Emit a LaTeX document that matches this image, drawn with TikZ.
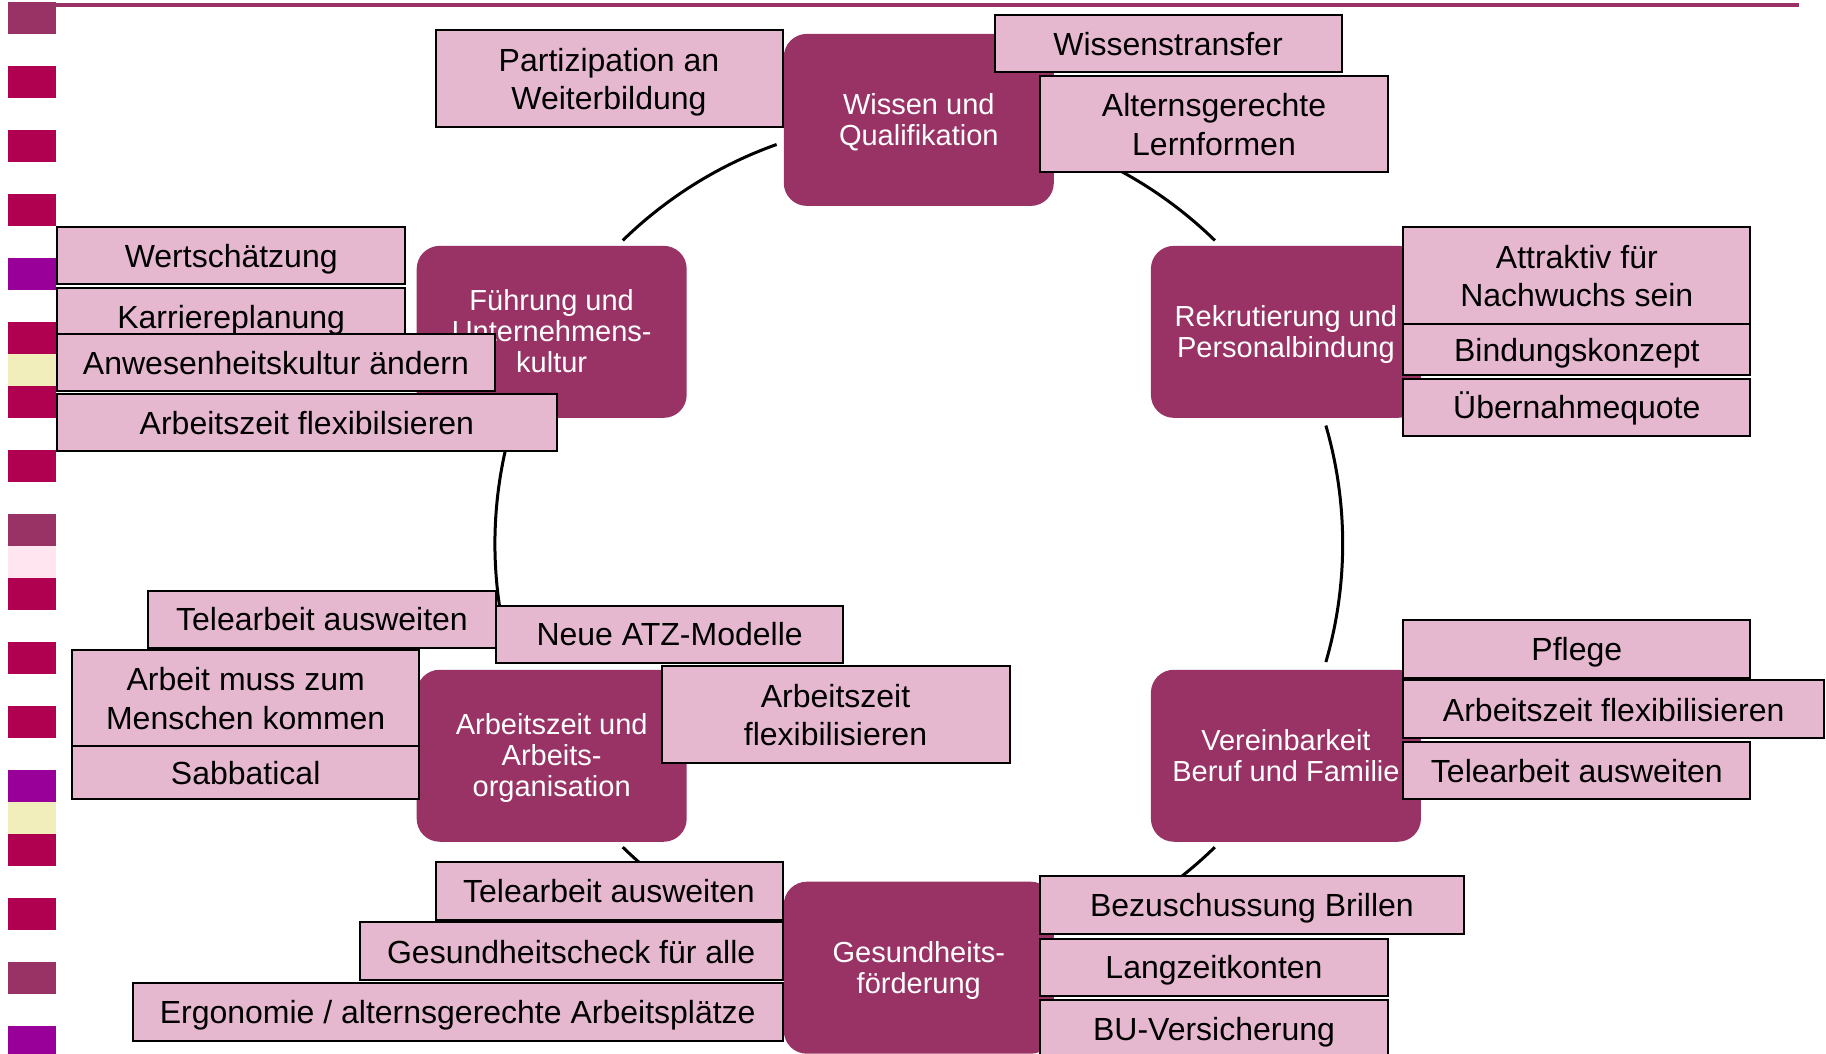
\documentclass[tikz,border=0pt]{standalone}
\usepackage{fontspec}
\setmainfont{Liberation Sans}
\definecolor{mauve}{RGB}{153,51,102}
\definecolor{crim}{RGB}{176,0,80}
\definecolor{purp}{RGB}{153,0,153}
\definecolor{yel}{RGB}{242,238,187}
\definecolor{lpink}{RGB}{255,229,240}
\definecolor{boxpink}{RGB}{230,184,208}
\newcommand\mystrut{\rule[-0.212em]{0pt}{1.117em}}
\newcommand\bstrut{\rule[-0.212em]{0pt}{0.212em}}
\newcommand\tstrut[1]{\rule[-0.212em]{0pt}{\dimexpr1.117em+#1\relax}}
\newcommand\ta{\tstrut{1.5pt}}
\newcommand\tb{\tstrut{0pt}}
\tikzset{
  topic/.style={fill=mauve, text=white, rounded corners=23, minimum width=270, minimum height=172,
    align=center, inner sep=0, font=\fontsize{29}{31}\selectfont},
  item/.style={draw=black, line width=2, fill=boxpink, align=center, inner sep=0,
    font=\fontsize{32}{38.4}\selectfont},
  ring/.style={draw=black, line width=3}
}
\begin{document}
\begin{tikzpicture}[x=1pt,y=-1pt]
\useasboundingbox (0,0) rectangle (1826,1054);
% left stripes
\foreach \k/\c in {0/mauve,1/crim,2/crim,3/crim,4/purp,5/crim,6/crim,7/crim,8/mauve,9/crim,10/crim,11/crim,12/purp,13/crim,14/crim,15/mauve,16/purp}
  \fill[\c] (8,2+64*\k) rectangle (56,34+64*\k);
\fill[yel] (8,354) rectangle (56,386);
\fill[lpink] (8,546) rectangle (56,578);
\fill[yel] (8,802) rectangle (56,834);
% top rule
\draw[mauve, line width=4] (56,5) -- (1799,5);
% cycle
\coordinate (C) at (918.8,543.8);
\def\R{423.9}
\foreach \a/\b in {-70.4/-45.7, -16.2/16.2, 45.7/66, 112/134.3, 163.8/196.2, -134.3/-109.6}
  \draw[ring] (C) ++(\a:\R) arc[start angle=\a, end angle=\b, radius=\R];
% topic nodes
\path (C) ++(-90:\R) node[topic] (wissen) {\tb Wissen und\\Qualifikation\bstrut};
\path (C) ++(-30:\R) node[topic] (rekr) {\tb Rekrutierung und\\Personalbindung\bstrut};
\path (C) ++(30:\R) node[topic] (verein) {\tb Vereinbarkeit\\Beruf und Familie\bstrut};
\path (C) ++(90:\R) node[topic] (gesund) {\tb Gesundheits-\\förderung\bstrut};
\path (C) ++(150:\R) node[topic] (arbeit) {\tb Arbeitszeit und\\Arbeits-\\organisation\bstrut};
\path (C) ++(210:\R) node[topic] (fuehr) {\tb Führung und\\Unternehmens-\\kultur\bstrut};
% Wissen
\node[item, minimum width=347, minimum height=96.6] (b1) at (609,78.6) {\ta Partizipation an\\Weiterbildung\mystrut};
\node[item, minimum width=347, minimum height=57] (b2) at (1168,43.7) {\ta Wissenstransfer};
\node[item, minimum width=348, minimum height=96.6] (b3) at (1214,124) {\ta Alternsgerechte\\Lernformen\mystrut};
% Führung
\node[item, minimum width=348, minimum height=57] (b4) at (231.2,255.6) {\ta Wertschätzung};
\node[item, minimum width=348, minimum height=57] (b5) at (231.2,316.2) {\ta Karriereplanung};
\node[item, minimum width=437.8, minimum height=57] (b6) at (276,362.8) {\ta Anwesenheitskultur ändern};
\node[item, minimum width=499.5, minimum height=57] (b7) at (306.9,422.2) {\ta Arbeitszeit flexibilsieren};
% Rekrutierung
\node[item, minimum width=347, minimum height=96.6] (b8) at (1576.8,275.4) {\ta Attraktiv für\\Nachwuchs sein\mystrut};
\node[item, minimum width=347, minimum height=51] (b9) at (1576.8,349.3) {\ta Bindungskonzept};
\node[item, minimum width=347, minimum height=57] (b10) at (1576.8,407) {\ta Übernahmequote};
% Arbeitszeit
\node[item, minimum width=348, minimum height=57] (b11) at (322,619) {\ta Telearbeit ausweiten};
\node[item, minimum width=347, minimum height=57] (b12) at (669.6,634) {\ta Neue ATZ-Modelle};
\node[item, minimum width=347, minimum height=96.6] (b13) at (245.7,698.1) {\ta Arbeit muss zum\\Menschen kommen\mystrut};
\node[item, minimum width=347, minimum height=52.4] (b14) at (245.7,772.6) {\ta Sabbatical};
\node[item, minimum width=348, minimum height=96.6] (b15) at (835.5,714.4) {\ta Arbeitszeit\\flexibilisieren\mystrut};
% Vereinbarkeit
\node[item, minimum width=347, minimum height=58] (b16) at (1576.8,648.6) {\ta Pflege};
\node[item, minimum width=421, minimum height=58] (b17) at (1613.7,709.2) {\ta Arbeitszeit flexibilisieren};
\node[item, minimum width=347, minimum height=57] (b18) at (1576.8,770.3) {\ta Telearbeit ausweiten};
% Gesundheit
\node[item, minimum width=347, minimum height=58] (b19) at (609,890.9) {\ta Telearbeit ausweiten};
\node[item, minimum width=422.7, minimum height=58] (b20) at (571.2,951.4) {\ta Gesundheitscheck für alle};
\node[item, minimum width=649.7, minimum height=58] (b21) at (457.7,1011.9) {\ta Ergonomie / alternsgerechte Arbeitsplätze};
\node[item, minimum width=423.9, minimum height=58] (b22) at (1251.9,904.8) {\ta Bezuschussung Brillen};
\node[item, minimum width=348, minimum height=57] (b23) at (1214,967.1) {\ta Langzeitkonten};
\node[item, minimum width=348, minimum height=58] (b24) at (1214,1028.5) {\ta BU-Versicherung};
\end{tikzpicture}
\end{document}
